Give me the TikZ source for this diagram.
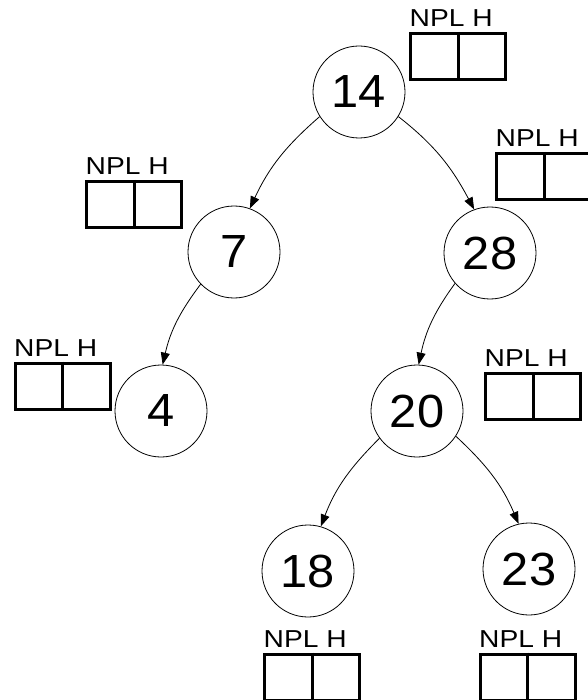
\documentclass[tikz,border=0pt]{standalone}
\usepackage{fontspec}
\setmainfont{Liberation Sans}
\newfontfamily\lblfont[FakeStretch=1.15]{Liberation Sans}
\newfontfamily\numfont[FakeStretch=1.05]{Liberation Sans}
\usetikzlibrary{arrows.meta}
\begin{document}
\begin{tikzpicture}[x=1pt,y=-1pt,
  numnode/.style={circle,draw,line width=0.8pt,minimum size=92pt,inner sep=0pt,font=\numfont\fontsize{46.5}{52}\selectfont},
  infobox/.style={draw,line width=3pt,minimum width=95pt,minimum height=46pt,inner sep=0pt},
  boxlabel/.style={anchor=base west,inner sep=0pt,font=\lblfont\fontsize{24.5}{30}\selectfont},
  divider/.style={line width=3pt},
  edge/.style={line width=0.8pt,-{Triangle[length=12pt,width=9pt]}}]
\useasboundingbox (0,0) rectangle (587,700);
% tree nodes
\node[numnode] (n14) at (359,92) {14};
\node[numnode] (n7) at (234,252) {7};
\node[numnode] (n28) at (490,253) {28};
\node[numnode] (n4) at (161,411) {4};
\node[numnode] (n20) at (417,411) {20};
\node[numnode] (n18) at (308,571) {18};
\node[numnode] (n23) at (529,569) {23};
% edges
\draw[edge] (n14.212) to[out=221,in=65] (n7.70);
\draw[edge] (n14.-32) to[out=-38,in=118] (n28.110);
\draw[edge] (n7.224) to[out=233,in=77] (n4.88);
\draw[edge] (n28.221) to[out=234,in=78] (n20.88);
\draw[edge] (n20.216) to[out=225,in=69] (n18.74);
\draw[edge] (n20.-33) to[out=-43,in=113] (n23.103);
% boxes
\foreach \nm/\x/\y in {b14/458/56.5, b28/544/176.5, b7/134/204.5, b4/62.5/386, b20/533/396.5, b18/312/677, b23/527.5/677}{
  \node[infobox] (\nm) at (\x,\y) {};
  \draw[divider] (\nm.north) -- (\nm.south);
  \node[boxlabel] (\nm l) at ([shift={(0.5,-5.5)}]\nm.north west) {NPL H};
}
\end{tikzpicture}
\end{document}
